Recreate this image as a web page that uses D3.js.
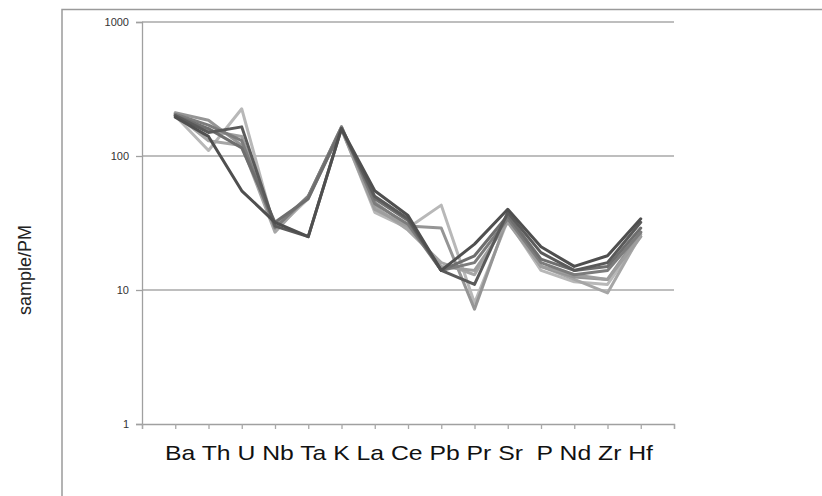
<!DOCTYPE html>
<html>
<head>
<meta charset="utf-8">
<script src="https://cdn.jsdelivr.net/npm/d3@7"></script>
<style>
  body { margin: 0; background: #fff; }
  text { font-family: "Liberation Sans", Arial, sans-serif; }
</style>
</head>
<body>
<div id="chart"><svg></svg></div>
<script>
var width = 822,
    height = 496;

// element order on the x axis
var elements = ["Ba", "Th", "U", "Nb", "Ta", "K", "La", "Ce", "Pb", "Pr", "Sr", "P", "Nd", "Zr", "Hf"];

// sample/PM values, one array per sample (light ones first, dark drawn last)
var s1 = [200, 110, 225, 28, 48, 160, 38, 29, 43, 8, 33, 14, 11.5, 11, 25];
var s2 = [205, 130, 120, 27, 50, 160, 42, 28, 16, 13, 34, 15, 12, 9.5, 26];
var s3 = [210, 185, 120, 30, 50, 165, 45, 30, 29, 7.2, 35, 15, 12.5, 12, 27];
var s4 = [208, 155, 140, 30, 49, 158, 40, 30, 15, 14, 32, 15, 13, 12, 25];
var s5 = [205, 170, 130, 29, 50, 165, 44, 31, 14, 16, 34, 16, 13, 14, 27];
var s6 = [200, 160, 115, 32, 48, 160, 48, 33, 14, 18, 36, 17, 14, 15, 29];
var s7 = [200, 150, 165, 30, 25, 160, 50, 34, 14, 11, 38, 19, 14, 16, 32];
var s8 = [195, 140, 55, 32, 25, 160, 55, 36, 14, 22, 40, 21, 15, 18, 34];

var series = [s1, s2, s3, s4, s5, s6, s7, s8];
var colors = ["#b8b8b8", "#a6a6a6", "#959595", "#9e9e9e", "#7c7c7c", "#6e6e6e", "#5a5a5a", "#4f4f4f"];

var yTicks = [1, 10, 100, 1000];

var svg = d3.select("#chart svg")
  .attr("width", width)
  .attr("height", height);

// outer frame (runs off the page to the right and bottom)
svg.append("path")
  .attr("d", "M62,496V9.5H822")
  .attr("fill", "none")
  .attr("stroke", "#9a9a9a")
  .attr("stroke-width", 1.5);

var x = d3.scaleLinear()
  .domain([0, elements.length + 1])
  .range([142, 674]);

var y = d3.scaleLog()
  .domain([1, 1000])
  .range([424, 22]);

// gridlines
svg.append("g")
    .attr("class", "grid")
  .selectAll("line")
    .data(yTicks.slice(1))
  .enter().append("line")
    .attr("x1", x(0))
    .attr("x2", x(elements.length + 1))
    .attr("y1", function (d) { return y(d); })
    .attr("y2", function (d) { return y(d); })
    .attr("stroke", "#a8a8a8")
    .attr("stroke-width", 1.3);

// y axis
var yAxis = d3.axisLeft(y)
  .tickValues(yTicks)
  .tickFormat(d3.format("d"))
  .tickSize(6)
  .tickPadding(7);

var gy = svg.append("g")
  .attr("transform", "translate(" + x(0) + ",0)")
  .call(yAxis);
gy.select(".domain").attr("stroke", "#a0a0a0").attr("stroke-width", 1.3);
gy.selectAll(".tick line").attr("stroke", "#a0a0a0").attr("stroke-width", 1.3);
gy.selectAll(".tick text")
  .attr("fill", "#333")
  .style("font-size", "11px")
  .style("font-family", "'Liberation Sans', Arial, sans-serif");

// x axis: tick marks only, labels are set as one line of text below
var xAxis = d3.axisBottom(x)
  .ticks(elements.length + 1)
  .tickValues(d3.range(0, elements.length + 2))
  .tickFormat("")
  .tickSizeOuter(0)
  .tickSize(5);

var gx = svg.append("g")
  .attr("transform", "translate(0," + y(1) + ")")
  .call(xAxis);
gx.select(".domain").attr("stroke", "#a0a0a0").attr("stroke-width", 1.3);
gx.selectAll(".tick line").attr("stroke", "#a8a8a8").attr("stroke-width", 1.3);

svg.append("text")
  .attr("x", 165)
  .attr("y", 460)
  .attr("textLength", 488)
  .attr("lengthAdjust", "spacingAndGlyphs")
  .style("font-size", "21px")
  .style("white-space", "pre")
  .attr("fill", "#111")
  .text(elements.join(" ").replace(" P ", "  P "));

// y axis title
svg.append("text")
  .attr("transform", "translate(31,270) rotate(-90)")
  .attr("text-anchor", "middle")
  .style("font-size", "18px")
  .attr("fill", "#222")
  .text("sample/PM");

// sample lines
var line = d3.line()
  .x(function (d, i) { return x(i + 1); })
  .y(function (d) { return y(d); });

svg.append("g")
    .attr("class", "lines")
  .selectAll("path")
    .data(series)
  .enter().append("path")
    .attr("d", line)
    .attr("fill", "none")
    .attr("stroke", function (d, i) { return colors[i]; })
    .attr("stroke-width", 3)
    .attr("stroke-linejoin", "round")
    .attr("stroke-linecap", "round");
</script>
</body>
</html>
